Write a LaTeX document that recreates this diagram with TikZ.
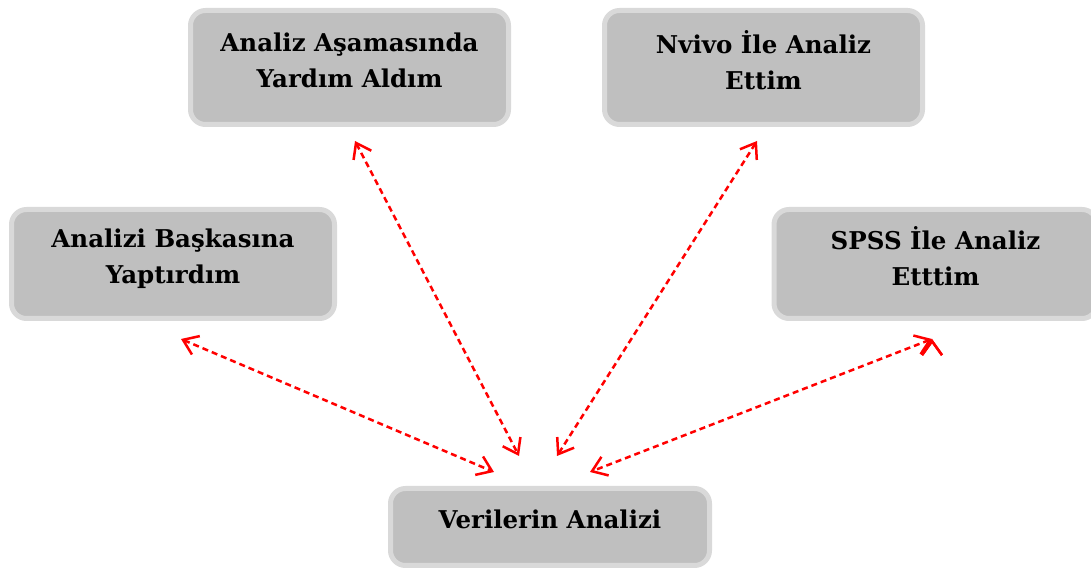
\documentclass[tikz,border=0pt]{standalone}
\usepackage{fontspec}
\setmainfont{DejaVu Serif}
\usetikzlibrary{arrows.meta, positioning, calc}

\begin{document}
\begin{tikzpicture}[x=1pt, y=1pt,
    box/.style={draw=black!15, fill=black!25, line width=5pt, rounded corners=15pt,
        align=center, font=\fontsize{24.5}{36}\selectfont\bfseries, text depth=15pt,
        minimum width=318pt, minimum height=114pt},
    link/.style={draw=red, line width=2.5pt, dash pattern=on 6pt off 4pt,
        {Straight Barb[length=14pt, width=20pt]}-{Straight Barb[length=14pt, width=20pt]}}]
                \useasboundingbox (0,0) rectangle (1091,569);
                \clip (0,0) rectangle (1091,569);
                \node[box] (help)  at (349.5,501.5) {Analiz Aşamasında\\Yardım Aldım};
                \node[box] (nvivo) at (763.5,501.5) {Nvivo İle Analiz\\Ettim};
                \node[box, minimum width=323pt, minimum height=109pt] (other) at (173,305) {Analizi Başkasına\\Yaptırdım};
                \node[box, minimum width=323pt, minimum height=109pt] (spss) at (935.5,305) {SPSS İle Analiz\\Etttim};
                \node[box, minimum width=319pt, minimum height=77pt] (data) at (550,42) {Verilerin Analizi};
                \path[link]
                ([xshift=8pt, yshift=-18pt]other.south) edge ([xshift=-56pt, yshift=14pt]data.north)
                ([xshift=5.5pt, yshift=-14pt]help.south) edge ([xshift=-31pt, yshift=30pt]data.north)
                ([xshift=-6.5pt, yshift=-14pt]nvivo.south) edge ([xshift=7pt, yshift=30pt]data.north)
                ([xshift=-3.5pt, yshift=-18pt]spss.south) edge ([xshift=40pt, yshift=14pt]data.north);
        \end{tikzpicture}
\end{document}
